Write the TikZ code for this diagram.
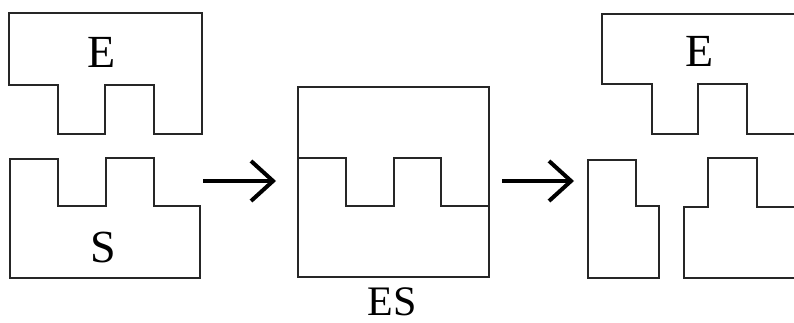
\documentclass[tikz,border=0pt]{standalone}
\usepackage{fontspec}
\setmainfont{Liberation Serif}
\usetikzlibrary{arrows.meta}
\begin{document}
\begin{tikzpicture}[x=1pt,y=-1pt,
  piece/.style={draw=black!85,line width=1.3pt,line join=miter},
  lbl/.style={font=\fontsize{46}{50}\selectfont,anchor=base,inner sep=0pt},
  bigarrow/.style={line width=4pt,-{Straight Barb[length=22pt,width=40pt,line width=4pt]}}]
\useasboundingbox (0,0) rectangle (794,323);
% left E
\draw[piece] (9,13) -- (202,13) -- (202,134) -- (154,134) -- (154,85) -- (105,85) -- (105,134) -- (58,134) -- (58,85) -- (9,85) -- cycle;
\node[lbl] (E1) at (102,68) {E};
% left S
\draw[piece] (10,159) -- (58,159) -- (58,206) -- (106,206) -- (106,158) -- (154,158) -- (154,206) -- (200,206) -- (200,278) -- (10,278) -- cycle;
\node[lbl] (S1) at (103,262) {S};
% ES box
\draw[piece] (298,87) rectangle (489,277);
\draw[piece] (298,158) -- (346,158) -- (346,206) -- (394,206) -- (394,158) -- (441,158) -- (441,206) -- (489,206);
\node[lbl,font=\fontsize{42}{46}\selectfont] (ES) at (392,315) {ES};
% right side (cut by the right edge)
\begin{scope}
\clip (0,0) rectangle (794,323);
\draw[piece] (602,14) -- (810,14) -- (810,134) -- (747,134) -- (747,84) -- (698,84) -- (698,134) -- (652,134) -- (652,84) -- (602,84) -- cycle;
\draw[piece] (588,160) -- (636,160) -- (636,206) -- (659,206) -- (659,278) -- (588,278) -- cycle;
\draw[piece] (810,207) -- (757,207) -- (757,158) -- (708,158) -- (708,207) -- (684,207) -- (684,278) -- (810,278);
\end{scope}
\node[lbl] (E2) at (700,67) {E};
% arrows
\coordinate (a1s) at (203,181);
\coordinate (a1e) at (276,181);
\coordinate (a2s) at (502,181);
\coordinate (a2e) at (574,181);
\draw[bigarrow] (a1s) -- (a1e);
\draw[bigarrow] (a2s) -- (a2e);
\end{tikzpicture}
\end{document}
